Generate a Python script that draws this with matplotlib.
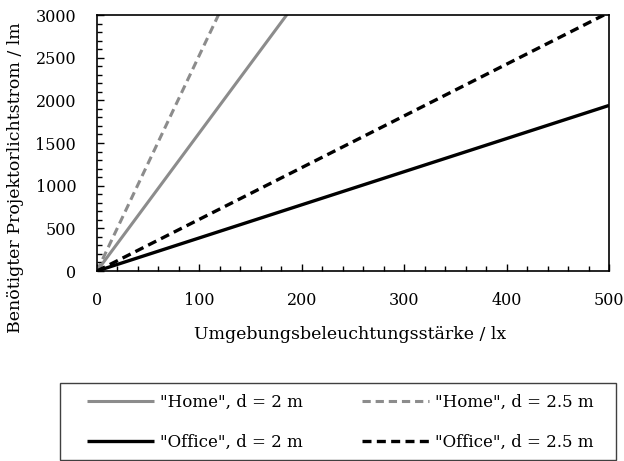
import matplotlib
matplotlib.use("Agg")
import matplotlib.pyplot as plt
from matplotlib.ticker import MultipleLocator
from matplotlib.patches import Rectangle

plt.rcParams['font.family'] = ['DejaVu Serif']

# Beleuchtungsstaerke in lx
illum = [0, 100, 200, 300, 400, 500]
# benoetigter Lichtstrom in lm
home_2m = [0, 1620, 3240, 4860, 6480, 8100]
home_25m = [0, 2530, 5060, 7590, 10120, 12650]
office_2m = [0, 388, 776, 1164, 1552, 1940]
office_25m = [0, 606, 1212, 1818, 2424, 3030]

labels = ['"Home", d = 2 m', '"Home", d = 2.5 m',
          '"Office", d = 2 m', '"Office", d = 2.5 m']

grey = '#8c8c8c'
fs = 11.5
W, H = 624, 461
dash = (0, (2.7, 1.6))

fig = plt.figure(figsize=(6.24, 4.61), dpi=100)
ax = fig.add_axes([97 / W, 1 - 271 / H, 512 / W, 256 / H])

l1, = ax.plot(illum, home_2m, color=grey, lw=2.2, solid_capstyle='butt')
l2, = ax.plot(illum, home_25m, color=grey, lw=2.2, ls=dash)
l3, = ax.plot(illum, office_2m, color='black', lw=2.4, solid_capstyle='butt')
l4, = ax.plot(illum, office_25m, color='black', lw=2.4, ls=dash)

ax.set_xlim(0, 500)
ax.set_ylim(0, 3000)
ax.xaxis.set_major_locator(MultipleLocator(100))
ax.xaxis.set_minor_locator(MultipleLocator(20))
ax.yaxis.set_major_locator(MultipleLocator(500))
ax.yaxis.set_minor_locator(MultipleLocator(100))
ax.tick_params(which='both', direction='in', labelsize=fs, width=1.0)
ax.tick_params(which='major', length=5, pad=15)
ax.tick_params(which='minor', length=3.5)
for s in ax.spines.values():
    s.set_linewidth(1.2)

ax.set_xlabel('Umgebungsbeleuchtungsstärke / lx', fontsize=12.5)
ax.xaxis.set_label_coords(350 / 512 - 97 / 512, -(343 - 271) / 256)
ax.xaxis.label.set_va('bottom')
ax.set_ylabel('Benötigter Projektorlichtstrom / lm', fontsize=12.5)
ax.yaxis.set_label_coords(-(97 - 24) / 512, (271 - 178) / 256)

leg = fig.legend([l1, l3, l2, l4], [labels[0], labels[2], labels[1], labels[3]],
                 ncol=2, loc='upper left', bbox_to_anchor=(87 / W, 1 - 394 / H),
                 frameon=False, fontsize=12, handlelength=4.0,
                 columnspacing=3.6, borderpad=0, borderaxespad=0,
                 labelspacing=1.35, handletextpad=0.35)

fig.patches.append(Rectangle((60 / W, 1 / H), 556 / W, 1 - 384 / H,
                             transform=fig.transFigure, fill=False,
                             edgecolor='#404040', lw=1.0))

fig.savefig('out.png', dpi=100)
